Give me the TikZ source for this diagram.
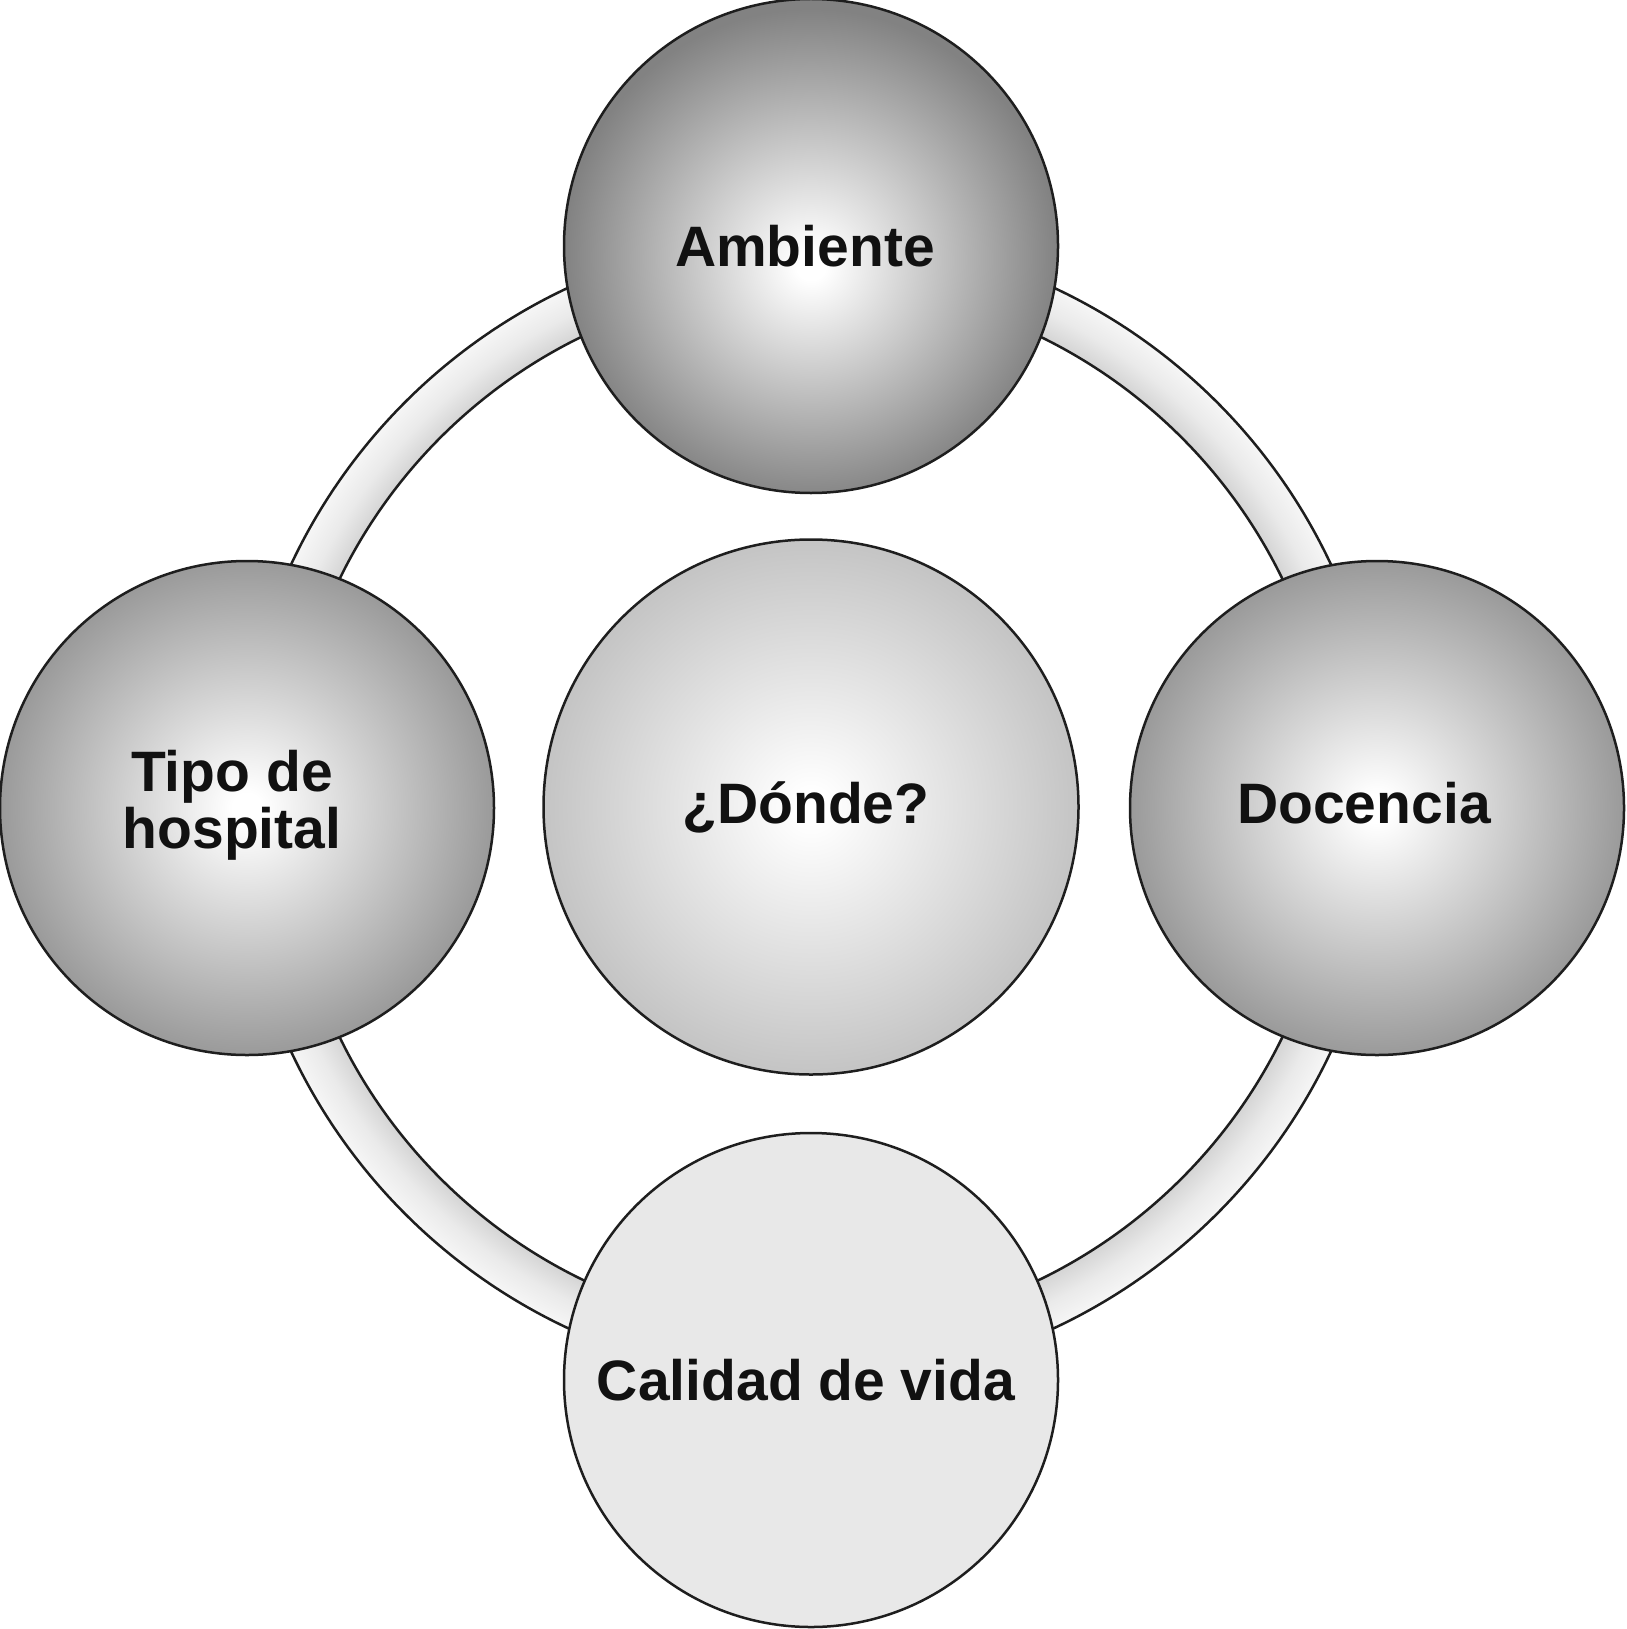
\documentclass[tikz,border=0pt]{standalone}
\usepackage{fontspec}
\setmainfont{Liberation Sans}
\definecolor{rimgray}{RGB}{154,154,154}
\definecolor{rimdark}{RGB}{130,130,130}
\definecolor{ctrgray}{RGB}{196,196,196}
\definecolor{flatgray}{RGB}{232,232,232}
\definecolor{ringin}{RGB}{212,212,212}
\definecolor{ringmid}{RGB}{234,234,234}
\definecolor{ringout}{RGB}{246,246,246}
\definecolor{edge}{RGB}{30,30,30}
\definecolor{txt}{RGB}{17,17,17}
\pgfdeclareradialshading{satshade}{\pgfpoint{0bp}{0bp}}{color(0bp)=(white); color(1.5bp)=(white); color(25bp)=(rimgray); color(50bp)=(rimgray)}
\pgfdeclareradialshading{topshade}{\pgfpoint{0bp}{-2bp}}{color(0bp)=(white); color(1.5bp)=(white); color(25bp)=(rimdark); color(50bp)=(rimdark)}
\pgfdeclareradialshading{ctrshade}{\pgfpoint{0bp}{0bp}}{color(0bp)=(white); color(1.5bp)=(white); color(25bp)=(ctrgray); color(50bp)=(ctrgray)}
\pgfdeclareradialshading{ringshade}{\pgfpoint{0bp}{0bp}}{color(0bp)=(ringin); color(22.8bp)=(ringin); color(23.9bp)=(ringmid); color(25bp)=(ringout); color(50bp)=(ringout)}
\tikzset{
  ball/.style={circle, draw=edge, line width=2.5pt, inner sep=0pt},
  satball/.style={ball, minimum size=494pt, shading=satshade},
  topball/.style={ball, minimum size=494pt, shading=topshade},
  ctrball/.style={ball, minimum size=535pt, shading=ctrshade},
  flatball/.style={ball, minimum size=494pt, fill=flatgray},
  label text/.style={inner sep=0pt, align=center,
    font=\bfseries\fontsize{57}{57}\selectfont, text=txt},
  ringline/.style={draw=edge, line width=2.5pt}
}
\begin{document}
\begin{tikzpicture}[x=1pt,y=-1pt]
\useasboundingbox (0,0) rectangle (1626,1629);
\coordinate (c) at (811,808);
\path[shading=ringshade, even odd rule] (c) circle (574) (c) circle (524);
\draw[ringline] (c) circle (574);
\draw[ringline] (c) circle (524);
\node[topball] (amb) at (811,246) {};
\node[satball] (tipo) at (247,808) {};
\node[satball] (doc) at (1377,808) {};
\node[flatball] (cal) at (811,1380) {};
\node[ctrball] (don) at (811,807) {};
\node[label text] (amb-t) at ([xshift=-6pt]amb.center) {Ambiente};
\node[label text] (tipo-t) at ([xshift=-15pt,yshift=3pt]tipo.center) {Tipo de\\hospital};
\node[label text] (doc-t) at ([xshift=-13pt,yshift=5pt]doc.center) {Docencia};
\node[label text] (cal-t) at ([xshift=-5pt]cal.center) {Calidad de vida};
\node[label text] (don-t) at ([xshift=-5pt]don.center) {¿Dónde?};
\end{tikzpicture}
\end{document}
